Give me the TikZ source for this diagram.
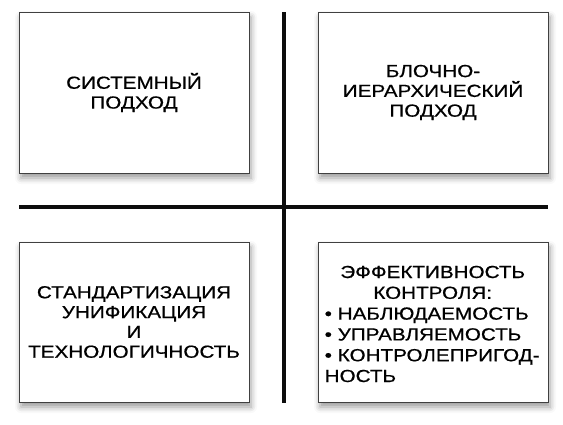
\documentclass[tikz,border=0pt]{standalone}
\usepackage{fontspec}
\setmainfont{Liberation Sans}[FakeStretch=1.18,FakeBold=0.7]
\usetikzlibrary{shadows.blur}

\tikzset{
  approach/.style={draw=black!75,line width=0.8pt,fill=white,
    minimum width=230pt,minimum height=161pt,align=center,
    font=\fontsize{17.5}{19.8}\selectfont,
    blur shadow={shadow xshift=2pt,shadow yshift=-5pt,shadow blur radius=6pt,shadow opacity=40}},
  divider/.style={line width=4pt,black!95}
}

\begin{document}
\begin{tikzpicture}
    [x=1pt,y=-1pt]
    \useasboundingbox (0,0) rectangle (563,424);
    \node[approach] (sys) at (134,92.5) {СИСТЕМНЫЙ\\ПОДХОД};
    \node[approach] (block) at (433,92.5)
      {БЛОЧНО-\\ИЕРАРХИЧЕСКИЙ\\ПОДХОД};
    \node[approach,minimum height=160pt] (std) at (134,322)
      {СТАНДАРТИЗАЦИЯ\\УНИФИКАЦИЯ\\И\\ТЕХНОЛОГИЧНОСТЬ};
    \node[approach,minimum height=160pt] (eff) at (433,322) {};
    \node[text width=216pt,inner sep=0pt,font=\fontsize{17.5}{20.8}\selectfont]
      (efftext) at (432.7,324)
      {\centering ЭФФЕКТИВНОСТЬ\\КОНТРОЛЯ:\par
       \raggedright •~НАБЛЮДАЕМОСТЬ\\•~УПРАВЛЯЕМОСТЬ\\\mbox{•~КОНТРОЛЕПРИГОД-}\\НОСТЬ\par};
    % cross between the boxes
    \coordinate (vtop) at (284,12);
    \coordinate (vbot) at (284,403);
    \coordinate (hleft) at (19,207);
    \coordinate (hright) at (548,207);
    \draw[divider] (vtop) -- (vbot);
    \draw[divider] (hleft) -- (hright);
\end{tikzpicture}
\end{document}
